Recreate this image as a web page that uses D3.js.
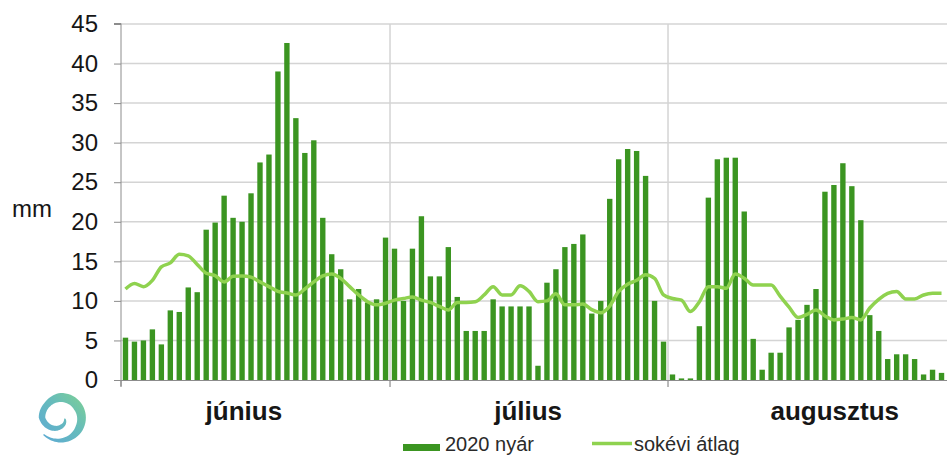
<!DOCTYPE html>
<html>
<head>
<meta charset="utf-8">
<script src="https://cdn.jsdelivr.net/npm/d3@7"></script>
<style>
  body { margin: 0; background: #fff; }
  svg { display: block; font-family: "Liberation Sans", Arial, sans-serif; }
</style>
</head>
<body>
<svg width="947" height="462"></svg>
<script>
// napi csapadék, 2020 nyár (mm)
const juneRain = [5.35, 4.85, 5.0, 6.4, 4.5, 8.8, 8.6, 11.7, 11.1, 19.0, 19.9, 23.3, 20.5, 20.0, 23.6,
  27.5, 28.5, 39.0, 42.6, 33.1, 28.7, 30.3, 20.5, 15.9, 14.0, 10.2, 11.5, 9.8, 10.2, 18.0];
const julyRain = [16.6, 10.0, 16.6, 20.7, 13.1, 13.1, 16.8, 10.5, 6.2, 6.2, 6.2, 10.2, 9.3, 9.3, 9.3,
  9.3, 1.8, 12.3, 14.0, 16.8, 17.2, 18.4, 8.4, 10.0, 22.9, 27.9, 29.2, 28.95, 25.8, 10.0, 4.85];
const augRain = [0.7, 0.2, 0.2, 6.8, 23.05, 27.9, 28.1, 28.1, 21.3, 5.2, 1.3, 3.45, 3.45, 6.65, 7.6,
  9.5, 11.5, 23.8, 24.65, 27.4, 24.5, 20.2, 8.2, 6.2, 2.65, 3.25, 3.25, 2.65, 0.7, 1.3, 0.9];

// sokévi átlag
const juneAvg = [11.5, 12.2, 11.8, 12.6, 14.3, 14.8, 15.9, 15.7, 14.6, 13.5, 13.2, 12.4, 13.1, 13.15, 13.0,
  12.4, 11.8, 11.2, 11.0, 10.75, 11.5, 12.4, 13.15, 13.4, 12.85, 11.8, 10.75, 9.9, 9.5, 9.7];
const julyAvg = [10.1, 10.3, 10.5, 10.1, 9.8, 9.3, 8.85, 9.8, 9.8, 9.9, 10.75, 11.8, 10.75, 10.75, 11.9,
  11.2, 9.9, 10.0, 10.9, 9.5, 9.5, 9.6, 8.9, 8.5, 9.35, 11.2, 12.1, 12.6, 13.3, 12.85, 10.75];
const augAvg = [10.3, 10.1, 8.65, 9.9, 11.8, 11.8, 11.6, 13.4, 12.85, 12.0, 12.0, 12.0, 10.6, 9.2, 7.9,
  8.3, 8.85, 8.1, 7.6, 7.7, 7.9, 7.6, 9.1, 10.2, 10.95, 11.2, 10.25, 10.25, 10.75, 10.95, 10.95];

const months = ["június", "július", "augusztus"];
const monthDays = [juneRain.length, julyRain.length, augRain.length];
const yTicks = [0, 5, 10, 15, 20, 25, 30, 35, 40, 45];
const seriesNames = ["2020 nyár", "sokévi átlag"];

const rain = juneRain.concat(julyRain, augRain);
const avg = juneAvg.concat(julyAvg, augAvg);
const days = d3.range(rain.length);

const svg = d3.select("svg"),
      plotLeft = 121, plotRight = 946, plotTop = 24, plotBottom = 380;

const x = d3.scaleBand().domain(days).range([plotLeft, plotRight]).paddingInner(0.4).paddingOuter(0.2);
const y = d3.scaleLinear().domain([0, 45]).range([plotBottom, plotTop]);
const dayEdge = i => plotLeft + i * (plotRight - plotLeft) / days.length;

const barColor = "#3b9521", lineColor = "#8fd24f", gridColor = "#d4d4d4", axisColor = "#8c8c8c";

// vízszintes rácsvonalak
svg.append("g")
  .selectAll("line")
  .data(yTicks.slice(1))
  .join("line")
    .attr("x1", plotLeft).attr("x2", 947)
    .attr("y1", d => y(d)).attr("y2", d => y(d))
    .attr("stroke", gridColor).attr("stroke-width", 1.5);

// hónaphatárok
const bounds = Array.from(d3.cumsum(monthDays)).slice(0, -1);
svg.append("g")
  .selectAll("line")
  .data(bounds)
  .join("line")
    .attr("x1", d => dayEdge(d)).attr("x2", d => dayEdge(d))
    .attr("y1", plotTop).attr("y2", plotBottom)
    .attr("stroke", gridColor).attr("stroke-width", 1.5);

// y tengely
svg.append("g")
  .attr("transform", `translate(${plotLeft},0)`)
  .call(d3.axisLeft(y).tickValues(yTicks).tickSize(7).tickPadding(16))
  .call(g => g.select(".domain").attr("stroke", axisColor).attr("d", `M-7,${plotTop - 0.5}H0V${plotBottom + 6}`))
  .call(g => g.selectAll(".tick line").attr("stroke", axisColor))
  .call(g => g.selectAll(".tick text")
      .attr("fill", "#161616")
      .style("font-size", "24px")
      .style("font-family", "'Liberation Sans', Arial, sans-serif"));

svg.append("text")
  .attr("x", 12).attr("y", 217)
  .attr("fill", "#161616")
  .style("font-size", "24px")
  .text("mm");

// oszlopok
svg.append("g")
  .selectAll("rect")
  .data(rain)
  .join("rect")
    .attr("x", (d, i) => x(i))
    .attr("y", d => y(d))
    .attr("width", x.bandwidth())
    .attr("height", d => plotBottom - y(d))
    .attr("fill", barColor);

// x tengely
svg.append("line")
  .attr("x1", plotLeft).attr("x2", 947)
  .attr("y1", plotBottom + 0.5).attr("y2", plotBottom + 0.5)
  .attr("stroke", axisColor).attr("stroke-width", 1.2);
svg.append("g")
  .selectAll("line")
  .data([0].concat(bounds))
  .join("line")
    .attr("x1", d => dayEdge(d)).attr("x2", d => dayEdge(d))
    .attr("y1", plotBottom).attr("y2", plotBottom + 7)
    .attr("stroke", axisColor).attr("stroke-width", 1.2);

// sokévi átlag vonal
const line = d3.line()
  .x((d, i) => x(i) + x.bandwidth() / 2)
  .y(d => y(d))
  .curve(d3.curveMonotoneX);
svg.append("path")
  .datum(avg)
  .attr("fill", "none")
  .attr("stroke", lineColor)
  .attr("stroke-width", 3.5)
  .attr("stroke-linejoin", "round")
  .attr("d", line);

// hónapnevek
const labelDay = [13.7, 45.4, 79.6];
svg.append("g")
  .selectAll("text")
  .data(months)
  .join("text")
    .attr("x", (d, i) => dayEdge(labelDay[i]))
    .attr("y", 420)
    .attr("text-anchor", "middle")
    .attr("fill", "#161616")
    .style("font-size", "26px")
    .style("font-weight", "bold")
    .text(d => d);

// jelmagyarázat
const legend = svg.append("g");
legend.append("rect")
  .attr("x", 403).attr("y", 444)
  .attr("width", 37).attr("height", 7)
  .attr("fill", barColor);
legend.append("text")
  .attr("x", 445).attr("y", 451)
  .attr("fill", "#2a2a2a")
  .style("font-size", "20px")
  .text(seriesNames[0]);
legend.append("line")
  .attr("x1", 592).attr("x2", 632)
  .attr("y1", 443.5).attr("y2", 443.5)
  .attr("stroke", lineColor).attr("stroke-width", 3.5);
legend.append("text")
  .attr("x", 634).attr("y", 451)
  .attr("fill", "#2a2a2a")
  .style("font-size", "20px")
  .text(seriesNames[1]);

// logó: spirál sáv (szög fokban az óramutató szerint 12 órától, középvonal sugara, vastagság)
const defs = svg.append("defs");
const grad = defs.append("linearGradient")
  .attr("id", "logoGrad")
  .attr("x1", "0%").attr("y1", "100%").attr("x2", "100%").attr("y2", "0%");
grad.append("stop").attr("offset", "0%").attr("stop-color", "#4b9fd2");
grad.append("stop").attr("offset", "55%").attr("stop-color", "#55b4b4");
grad.append("stop").attr("offset", "100%").attr("stop-color", "#70cc86");

const spiralKeys = [[225, 24, 1.2], [180, 23, 4], [120, 21.5, 8], [60, 20.5, 9.5], [0, 20, 9],
  [-45, 18.5, 6.5], [-90, 18.5, 6.5], [-135, 14, 6], [-180, 9.5, 5], [-230, 6, 3], [-255, 4.5, 1.5]];
const cx = 60.5, cy = 417.5;
const spiralPts = [];
for (let k = 0; k < spiralKeys.length - 1; k++) {
  const a = spiralKeys[k], b = spiralKeys[k + 1];
  for (let s = 0; s < 10; s++) {
    const t = s / 10;
    spiralPts.push(a.map((v, j) => v + (b[j] - v) * t));
  }
}
spiralPts.push(spiralKeys[spiralKeys.length - 1]);
const polar = (th, r) => [cx + r * Math.sin(th * Math.PI / 180), cy - r * Math.cos(th * Math.PI / 180)];
const outerEdge = spiralPts.map(p => polar(p[0], p[1] + p[2] / 2));
const innerEdge = spiralPts.map(p => polar(p[0], p[1] - p[2] / 2)).reverse();
svg.append("path")
  .attr("d", d3.line().curve(d3.curveLinearClosed)(outerEdge.concat(innerEdge)))
  .attr("fill", "url(#logoGrad)")
  .attr("opacity", 0.9);
</script>
</body>
</html>
